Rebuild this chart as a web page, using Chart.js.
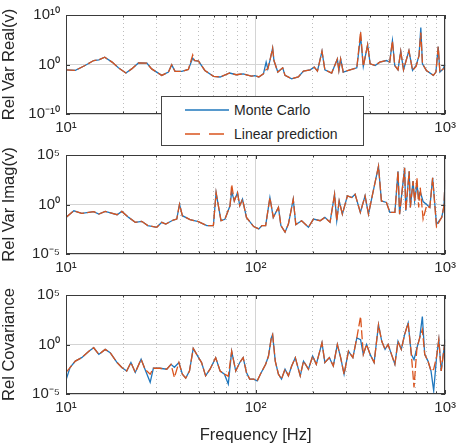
<!DOCTYPE html>
<html>
<head>
<meta charset="utf-8">
<script src="https://cdn.jsdelivr.net/npm/chart.js@4.4.1/dist/chart.umd.min.js"></script>
<style>
  html, body { margin: 0; padding: 0; background: #fff; }
  #wrap { position: relative; width: 461px; height: 448px; }
  #wrap canvas { position: absolute; left: 0; }
  #legend {
    position: absolute; left: 161px; top: 96px; width: 201px; height: 48px;
    background: #fff; border: 1px solid #444; z-index: 5;
    font-family: 'Liberation Sans', Arial, sans-serif; font-size: 14px; color: #262626;
  }
  #legend .row { position: absolute; left: 0; height: 18px; line-height: 18px; }
  #legend svg { position: absolute; left: 23px; top: 7px; }
  #legend span { position: absolute; left: 72px; white-space: nowrap; }
</style>
</head>
<body>
<div id="wrap">
  <canvas id="realChart" width="461" height="140" style="top:0"></canvas>
  <canvas id="imagChart" width="461" height="140" style="top:140px"></canvas>
  <canvas id="covChart" width="461" height="168" style="top:280px"></canvas>
  <div id="legend">
    <div class="row" style="top:4px">
      <svg width="44" height="4"><line x1="0" y1="2" x2="44" y2="2" stroke="#1f77bd" stroke-width="1.6"/></svg>
      <span>Monte Carlo</span>
    </div>
    <div class="row" style="top:28px">
      <svg width="44" height="4"><line x1="0" y1="2" x2="44" y2="2" stroke="#d9541e" stroke-width="1.6" stroke-dasharray="15 9"/></svg>
      <span>Linear prediction</span>
    </div>
  </div>
</div>
<script>
// --- data ---
const freqReal = [10, 11.2, 12.6, 14, 14.9, 16, 17.5, 18.9, 20.7, 22.2,
    24.1, 26.7, 28.3, 32, 34.7, 36.1, 37.6, 40.8, 44.2, 46.6,
    47.6, 50, 54, 60, 65, 73, 79, 86, 95, 99,
    104, 110, 113.7, 116, 119, 123, 125, 131, 139, 143,
    155, 168, 179, 194, 204, 212, 224, 232, 252, 270,
    275, 281, 290, 315, 342, 358, 370, 390, 402, 427,
    452, 490, 510, 527, 542, 564, 583, 603, 644, 673,
    703, 728, 744, 759, 796, 866, 894, 919, 938, 976,
    1000];
const mcReal = [8.5e-2, 6.3e-2, 0.63, 6.3, 8.5, 30, 3.0, 0.21, 1.9e-2, 0.13,
    2.1, 1.9, 0.13, 6.3e-3, 3.0e-2, 0.85, 4.0e-2, 4.0e-2, 0.1, 20,
    6.3, 4.7, 6.3e-2, 4.0e-3, 3.0e-3, 1.9e-2, 8.5e-3, 1.3e-2, 4.7e-3, 5.4e-3,
    3.0e-3, 1.3e-2, 3.0, 0.13, 6.3, 2.1e3, 6.3, 3.0e-2, 0.21, 6.3e-3,
    1.3e-3, 3.0e-3, 4.7e-2, 8.5e-2, 0.3, 4.7e-2, 470, 8.5e-2, 1.9e-2, 13,
    6.3e-2, 13, 3.0e-2, 8.5e-2, 0.21, 5e5, 0.4, 1e4, 1.35, 0.63,
    3.0, 6.3, 3.0, 6.3e4, 0.63, 8.5e-2, 470, 8.5e-2, 630, 6.3e-2,
    0.63, 63, 3e7, 1.35, 6.3e-2, 6.3e-3, 3.0e-2, 4.0e3, 3.0e-2, 0.13,
    1.35];
const lpReal = [8.5e-2, 6.3e-2, 0.63, 6.3, 8.5, 30, 3.0, 0.21, 1.9e-2, 0.13,
    2.1, 1.9, 0.13, 6.3e-3, 3.0e-2, 0.85, 4.0e-2, 4.0e-2, 0.1, 85,
    6.3, 4.7, 6.3e-2, 4.0e-3, 3.0e-3, 1.9e-2, 8.5e-3, 1.3e-2, 4.7e-3, 5.4e-3,
    3.0e-3, 1.3e-2, 0.1, 0.13, 6.3, 2.1e3, 6.3, 3.0e-2, 0.21, 6.3e-3,
    1.3e-3, 3.0e-3, 4.7e-2, 8.5e-2, 0.3, 4.7e-2, 470, 8.5e-2, 1.9e-2, 13,
    6.3e-2, 13, 3.0e-2, 8.5e-2, 0.21, 4.7e6, 0.4, 1e4, 1.35, 0.63,
    3.0, 6.3, 3.0, 6.3e4, 0.63, 8.5e-2, 470, 8.5e-2, 630, 6.3e-2,
    0.4, 63, 3e6, 1.35, 6.3e-2, 6.3e-3, 3.0e-2, 4.0e3, 3.0e-2, 0.13,
    0.13];

const freqImag = [10, 11, 12.1, 14, 14.9, 16.1, 18.6, 19.7, 21.4, 23.2,
    25.1, 27, 30.1, 32, 33.6, 36.8, 38.4, 39.7, 41.1, 45.1,
    49.9, 55.3, 59.9, 61.9, 65.7, 68.9, 73.3, 74.8, 77.2, 80.3,
    82.5, 85.3, 89.5, 97.7, 104, 108, 113, 119, 124, 132,
    136, 143, 149, 158, 163, 175, 190, 202, 219, 232,
    247, 261, 268, 276, 287, 305, 322, 335, 357, 378,
    394, 414, 445, 461, 490, 511, 543, 564, 575, 611,
    620, 646, 655, 677, 690, 710, 725, 739, 765, 798,
    830, 859, 900, 959, 985, 1000];
const mcImag = [5.0e-2, 0.23, 0.126, 0.19, 0.107, 0.2, 9.3e-2, 0.2, 5.0e-2, 1.6e-2,
    2.0e-2, 7.4e-3, 5.0e-3, 1.6e-2, 1.07e-2, 2.7e-2, 3.4e-2, 1.07, 7.4e-2, 3.0e-2,
    1.9e-2, 7.4e-3, 7.4e-3, 16, 2.3e-2, 3.2e-2, 0.74, 20, 2.3, 16,
    0.74, 3.4, 5.0e-2, 5.9e-3, 3.4e-3, 7.4e-3, 7.4e-3, 5.0, 5.0e-2, 0.5,
    7.4e-3, 1.6e-3, 1.07e-2, 3.4, 9.3e-3, 2.3e-2, 5.0e-3, 3.4e-2, 2.3e-2, 5.0e-2,
    1.6e-2, 10.7, 2.3e-2, 2.3, 0.107, 7.4, 5.0, 10.7, 0.16, 7.4,
    0.107, 10.7, 7.4e3, 2.3, 1.6, 0.16, 0.16, 2.3e3, 0.107, 5.0e3,
    0.23, 2.3e3, 0.5, 230, 2.3, 100, 5.0, 20, 2.0, 1.0,
    0.5, 500, 1.0e-2, 5.0e-2, 0.63, 300];
const lpImag = [5.0e-2, 0.23, 0.126, 0.19, 0.107, 0.2, 9.3e-2, 0.2, 5.0e-2, 1.6e-2,
    2.0e-2, 7.4e-3, 5.0e-3, 1.6e-2, 1.07e-2, 2.7e-2, 3.4e-2, 1.07, 7.4e-2, 3.0e-2,
    1.9e-2, 7.4e-3, 7.4e-3, 16, 2.3e-2, 3.2e-2, 0.74, 107, 2.3, 16,
    0.74, 3.4, 5.0e-2, 5.9e-3, 3.4e-3, 7.4e-3, 7.4e-3, 5.0, 5.0e-2, 0.5,
    7.4e-3, 1.6e-3, 1.07e-2, 3.4, 9.3e-3, 2.3e-2, 5.0e-3, 3.4e-2, 2.3e-2, 5.0e-2,
    1.6e-2, 10.7, 2.3e-2, 2.3, 0.107, 7.4, 5.0, 10.7, 0.16, 7.4,
    0.107, 10.7, 7.4e3, 2.3, 1.6, 0.16, 0.16, 2.3e3, 0.107, 5.0e3,
    0.23, 2.3e3, 0.5, 230, 2.3, 500, 0.5, 50, 3.4e-2, 0.74,
    0.5, 500, 5.9e-3, 5.0e-2, 0.63, 500];

const freqCov = [10, 10.5, 11.2, 12.1, 13.2, 14, 14.9, 16.1, 17.1, 18.6,
    19.7, 20.9, 22, 23.2, 24.9, 26.1, 27.8, 28.9, 31.3, 34,
    35.8, 37.3, 39.4, 41.1, 42.8, 44.8, 46.9, 49.5, 51.9, 54.5,
    57.5, 61.6, 65, 68.5, 71.8, 74.8, 78.6, 82.5, 86, 89.5,
    93.1, 97.7, 102, 106, 113, 117, 121, 123, 127, 132,
    137, 143, 149, 155, 162, 172, 179, 190, 200, 209,
    224, 232, 245, 257, 270, 281, 293, 309, 326, 342,
    358, 370, 385, 402, 422, 445, 463, 482, 500, 521,
    543, 564, 587, 611, 638, 663, 685, 710, 734, 758,
    780, 812, 842, 870, 902, 926, 953, 1000];
const mcCov = [2.5e-4, 4.7e-3, 2.1e-2, 4.7e-2, 0.21, 0.47, 0.1, 0.32, 0.15, 1.5e-2,
    4.7e-3, 2.1e-3, 1.5e-2, 1.5e-3, 3.2e-2, 3.2e-3, 1.5e-4, 4.0e-3, 4.0e-3, 3.2e-3,
    1e-2, 5e-3, 1.5e-2, 1e-3, 4.0e-4, 2.1e-3, 0.4, 6.8e-2, 1.5e-2, 6.8e-4,
    3.2e-3, 4.7e-2, 2.1e-3, 1e-3, 1e-4, 0.21, 2.1e-3, 1.5e-2, 4.7e-2, 1.5e-3,
    3.2e-4, 3.2e-4, 2.1e-4, 1e-3, 1e-2, 6.8e-2, 4.7, 10, 2.1e-2, 1e-3,
    3.2e-4, 3.2e-3, 6.8e-4, 6.8e-3, 4.7e-2, 6.8e-4, 2.1e-2, 3.2e-3, 6.8e-2, 1e-2,
    1.5, 1.5e-2, 4.7e-2, 6.8e-3, 1, 4.7e-2, 1e-3, 0.21, 4.7e-2, 4.7,
    3.0, 0.1, 1, 0.1, 1.5e-2, 100, 2.1, 0.32, 1, 0.1,
    1e-2, 2.1, 0.32, 10, 150, 0.1, 3e-2, 0.47, 4.7, 680,
    0.1, 2.1e-2, 2.1e-3, 2.1e-5, 6.8e-2, 3.2, 2.1e-3, 3.2];
const lpCov = [1.5e-3, 4.7e-3, 2.1e-2, 4.7e-2, 0.21, 0.47, 0.1, 0.32, 0.15, 1.5e-2,
    4.7e-3, 2.1e-3, 1.5e-2, 1.5e-3, 3.2e-2, 3.2e-3, 1e-3, 4.0e-3, 4.0e-3, 3.2e-3,
    1e-2, 4.7e-4, 1.5e-2, 1e-3, 4.0e-4, 2.1e-3, 0.4, 6.8e-2, 1.5e-2, 6.8e-4,
    3.2e-3, 4.7e-2, 2.1e-3, 1e-3, 6.3e-4, 0.21, 2.1e-3, 1.5e-2, 4.7e-2, 1.5e-3,
    3.2e-4, 3.2e-4, 2.1e-4, 1e-3, 1e-2, 6.8e-2, 4.7, 10, 2.1e-2, 1e-3,
    3.2e-4, 3.2e-3, 6.8e-4, 6.8e-3, 4.7e-2, 6.8e-4, 2.1e-2, 3.2e-3, 6.8e-2, 1e-2,
    1.5, 1.5e-2, 4.7e-2, 6.8e-3, 1, 4.7e-2, 1e-3, 0.21, 4.7e-2, 4.7,
    680, 0.1, 1, 0.1, 1.5e-2, 100, 2.1, 0.32, 1, 0.1,
    1e-2, 2.1, 0.32, 10, 150, 0.1, 4.7e-5, 0.47, 4.7, 32,
    0.1, 2.1e-2, 2.1e-3, 3.2e-3, 6.8e-2, 3.2, 2.1e-3, 3.2];

const xMajorTicks = [10, 100, 1000];
const xMinorTicks = [20, 30, 40, 50, 60, 70, 80, 90, 200, 300, 400, 500, 600, 700, 800, 900];
const yTicksReal = [1e-10, 1, 1e10];
const yTicksSmall = [1e-5, 1, 1e5];

const blue = '#1f77bd';
const orange = '#d9541e';
const textColor = '#262626';
const fontFamily = "'Liberation Sans', Arial, sans-serif";

const supMap = { '0': '⁰', '1': '¹', '2': '²', '3': '³', '4': '⁴', '5': '⁵', '6': '⁶', '7': '⁷', '8': '⁸', '9': '⁹', '-': '⁻' };
function powLabel(v) {
    const e = String(Math.round(Math.log10(v)));
    return '10' + e.split('').map(c => supMap[c]).join('');
}

function toPoints(freq, vals) {
    return freq.map((f, i) => ({ x: f, y: vals[i] }));
}

// box around the axes with small inward ticks
const boxPlugin = {
    id: 'box',
    afterDraw(chart) {
        const ctx = chart.ctx;
        const a = chart.chartArea;
        ctx.save();
        ctx.strokeStyle = '#3a3a3a';
        ctx.lineWidth = 1;
        ctx.beginPath();
        [['x', 4], ['xm', 2.5]].forEach(([id, len]) => {
            const s = chart.scales[id];
            s.ticks.forEach(t => {
                const px = Math.round(s.getPixelForValue(t.value)) + 0.5;
                ctx.moveTo(px, a.bottom); ctx.lineTo(px, a.bottom - len);
                ctx.moveTo(px, a.top); ctx.lineTo(px, a.top + len);
            });
        });
        const ys = chart.scales.y;
        ys.ticks.forEach(t => {
            const py = Math.round(ys.getPixelForValue(t.value)) + 0.5;
            ctx.moveTo(a.left, py); ctx.lineTo(a.left + 4, py);
            ctx.moveTo(a.right, py); ctx.lineTo(a.right - 4, py);
        });
        ctx.stroke();
        ctx.strokeRect(Math.round(a.left) + 0.5, Math.round(a.top) + 0.5,
            Math.round(a.width) - 1, Math.round(a.height) - 1);
        ctx.restore();
    }
};

function makePanel(id, freq, mc, lp, yTicks, yTitle, showXTitle, xHeight) {
    const ctx = document.getElementById(id).getContext('2d');
    return new Chart(ctx, {
        type: 'line',
        data: {
            datasets: [
                {
                    label: 'Monte Carlo',
                    data: toPoints(freq, mc),
                    borderColor: blue,
                    borderWidth: 1.3,
                    pointRadius: 0,
                    tension: 0,
                    order: 1
                },
                {
                    label: 'Linear prediction',
                    data: toPoints(freq, lp),
                    borderColor: orange,
                    borderWidth: 1.3,
                    borderDash: [9, 3],
                    pointRadius: 0,
                    tension: 0,
                    order: 0
                }
            ]
        },
        options: {
            responsive: false,
            animation: false,
            layout: { padding: { top: 14, right: 15, left: 0, bottom: 0 } },
            plugins: { legend: { display: false }, tooltip: { enabled: false } },
            scales: {
                x: {
                    type: 'logarithmic',
                    position: 'bottom',
                    min: 10,
                    max: 1000,
                    afterBuildTicks: s => { s.ticks = xMajorTicks.map(v => ({ value: v })); },
                    afterFit: s => { s.height = xHeight; },
                    ticks: {
                        autoSkip: false,
                        maxRotation: 0,
                        padding: 5,
                        color: textColor,
                        font: { family: fontFamily, size: 15 },
                        callback: v => powLabel(v)
                    },
                    grid: { color: '#d4d4d4', lineWidth: 1, drawTicks: false },
                    border: { display: false },
                    title: {
                        display: showXTitle,
                        text: 'Frequency [Hz]',
                        color: textColor,
                        font: { family: fontFamily, size: 16.5 },
                        padding: { top: 0, bottom: 3 }
                    }
                },
                xm: {
                    type: 'logarithmic',
                    position: 'bottom',
                    min: 10,
                    max: 1000,
                    afterBuildTicks: s => { s.ticks = xMinorTicks.map(v => ({ value: v })); },
                    afterFit: s => { s.height = 0; },
                    ticks: { display: false },
                    grid: { color: '#bdbdbd', lineWidth: 1, drawTicks: false },
                    border: { display: false, dash: [1, 3] }
                },
                y: {
                    type: 'logarithmic',
                    min: yTicks[0],
                    max: yTicks[yTicks.length - 1],
                    afterBuildTicks: s => { s.ticks = yTicks.map(v => ({ value: v })); },
                    afterFit: s => { s.width = 66; },
                    ticks: {
                        autoSkip: false,
                        padding: 6,
                        color: textColor,
                        font: { family: fontFamily, size: 15 },
                        callback: v => powLabel(v)
                    },
                    grid: { color: '#d4d4d4', lineWidth: 1, drawTicks: false },
                    border: { display: false },
                    title: {
                        display: true,
                        text: yTitle,
                        color: textColor,
                        font: { family: fontFamily, size: 16.5 },
                        padding: 0
                    }
                }
            }
        },
        plugins: [boxPlugin]
    });
}

makePanel('realChart', freqReal, mcReal, lpReal, yTicksReal, 'Rel Var Real(v)', false, 26);
makePanel('imagChart', freqImag, mcImag, lpImag, yTicksSmall, 'Rel Var Imag(v)', false, 26);
makePanel('covChart', freqCov, mcCov, lpCov, yTicksSmall, 'Rel Covariance', true, 54);
</script>
</body>
</html>
